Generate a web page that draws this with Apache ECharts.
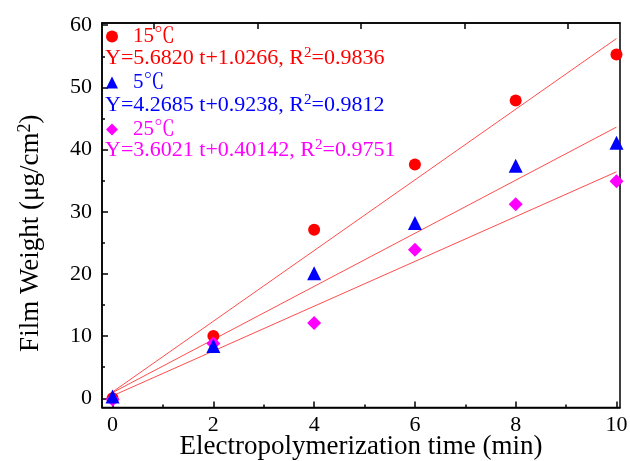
<!DOCTYPE html>
<html>
<head>
<meta charset="utf-8">
<script src="https://cdn.jsdelivr.net/npm/echarts@6/dist/echarts.min.js"></script>
<style>
  html, body { margin: 0; padding: 0; background: #fff; }
  #chart { width: 630px; height: 461px; }
</style>
</head>
<body>
<div id="chart"></div>
<script>
// electropolymerization time (min)
const timeMin = [0, 2, 4, 6, 8, 10];
// film weight (ug/cm2) at each temperature
const weight15 = [0, 10.0, 27.1, 37.6, 47.9, 55.3];
const weight5 = [0.3, 8.4, 20.1, 28.2, 37.4, 41.1];
const weight25 = [-0.2, 8.8, 12.1, 23.9, 31.2, 34.9];

// fitted lines, read at both ends
const fitTime = [0, 10];
const fit15 = [1.03, 57.85];
const fit5 = [0.92, 43.61];
const fit25 = [0.40, 36.42];

const xTicks = [0, 2, 4, 6, 8, 10];
const xMinor = [1, 3, 5, 7, 9];
const xTopTicks = [0, 2, 4, 6, 8];
const yTicks = [0, 10, 20, 30, 40, 50, 60];
const yMinor = [5, 15, 25, 35, 45, 55];

const names = ['15℃', '5℃', '25℃'];
const equations = [
  'Y=5.6820 t+1.0266, R{sup|2}=0.9836',
  'Y=4.2685 t+0.9238, R{sup|2}=0.9812',
  'Y=3.6021 t+0.40142, R{sup|2}=0.9751',
];

const serif = '"Liberation Serif", "Times New Roman", "Noto Serif CJK SC", "Noto Sans CJK SC", serif';
const red = '#ff0000', blue = '#0000ff', magenta = '#ff00ff', fitColor = '#ff4d4d';

const pairs = (xs, ys) => xs.map((x, i) => [x, ys[i]]);

const chart = echarts.init(document.getElementById('chart'));

const tickStyle = { color: '#000', width: 1.5 };

const baseX = {
  type: 'value', min: -0.21, max: 10.07, gridIndex: 0,
  splitLine: { show: false },
};
const baseY = {
  type: 'value', min: -1.48, max: 60.35, gridIndex: 0,
  splitLine: { show: false },
};

const legendBox = (name, top, icon, color) => ({
  data: [{ name: name, icon: icon, itemStyle: { color: color, opacity: 1 } }],
  left: 106, top: top, padding: 0,
  itemWidth: 12, itemHeight: 12,
  selectedMode: false,
  textStyle: { color: color, fontFamily: serif, fontSize: 21, padding: [0, 0, 0, 10] },
});

const eqText = (text, top, color) => ({
  type: 'text', left: 105, top: top,
  style: {
    text: text, fill: color, fontFamily: serif, fontSize: 22,
    rich: { sup: { fontFamily: serif, fontSize: 15, fill: color, padding: [0, 0, 9, 0] } },
  },
});

chart.setOption({
  backgroundColor: '#fff',
  animation: false,
  grid: {
    left: 102, top: 23, width: 518, height: 384.5,
    outerBoundsMode: 'none',
    show: true, borderColor: '#000', borderWidth: 1.5,
  },
  xAxis: [
    {
      ...baseX,
      position: 'bottom',
      name: 'Electropolymerization time (min)',
      nameLocation: 'middle', nameGap: 26, nameMoveOverlap: false,
      nameTextStyle: { fontFamily: serif, fontSize: 27, color: '#000' },
      axisLine: { show: true, onZero: false, lineStyle: tickStyle },
      axisTick: { show: true, inside: true, length: 6, customValues: xTicks, lineStyle: tickStyle },
      axisLabel: { customValues: xTicks, margin: 7, fontFamily: serif, fontSize: 22, color: '#000' },
    },
    {
      ...baseX,
      position: 'bottom',
      axisLine: { show: false, onZero: false },
      axisTick: { show: true, inside: true, length: 3, customValues: xMinor, lineStyle: tickStyle },
      axisLabel: { show: false },
    },
    {
      type: 'value', min: -1, max: 9, position: 'top', gridIndex: 0,
      splitLine: { show: false },
      axisLine: { show: true, onZero: false, lineStyle: tickStyle },
      axisTick: { show: true, inside: true, length: 6, customValues: xTopTicks, lineStyle: tickStyle },
      axisLabel: { show: false },
    },
  ],
  yAxis: [
    {
      ...baseY,
      position: 'left',
      name: 'Film Weight (μg/cm{sup|2})',
      nameLocation: 'middle', nameGap: 57, nameRotate: 90, nameMoveOverlap: false,
      nameTextStyle: {
        fontFamily: serif, fontSize: 27, color: '#000', padding: [0, 36, 0, 0],
        rich: { sup: { fontFamily: serif, fontSize: 18, color: '#000', padding: [0, 0, 11, 0] } },
      },
      axisLine: { show: true, onZero: false, lineStyle: tickStyle },
      axisTick: { show: true, inside: true, length: 6, customValues: yTicks, lineStyle: tickStyle },
      axisLabel: { customValues: yTicks, margin: 10, fontFamily: serif, fontSize: 22, color: '#000' },
    },
    {
      ...baseY,
      position: 'left',
      axisLine: { show: false, onZero: false },
      axisTick: { show: true, inside: true, length: 3, customValues: yMinor, lineStyle: tickStyle },
      axisLabel: { show: false },
    },
  ],
  legend: [
    legendBox(names[0], 26, 'circle', red),
    legendBox(names[1], 72, 'triangle', blue),
    legendBox(names[2], 119, 'diamond', magenta),
  ],
  graphic: [
    eqText(equations[0], 46, red),
    eqText(equations[1], 93, blue),
    eqText(equations[2], 138, magenta),
  ],
  series: [
    { type: 'line', data: pairs(fitTime, fit15), showSymbol: false, silent: true, lineStyle: { color: fitColor, width: 1 }, z: 1 },
    { type: 'line', data: pairs(fitTime, fit5), showSymbol: false, silent: true, lineStyle: { color: fitColor, width: 1 }, z: 1 },
    { type: 'line', data: pairs(fitTime, fit25), showSymbol: false, silent: true, lineStyle: { color: fitColor, width: 1 }, z: 1 },
    { name: names[0], type: 'scatter', data: pairs(timeMin, weight15), symbol: 'circle', symbolSize: 12, itemStyle: { color: red, opacity: 1 }, z: 2 },
    { name: names[2], type: 'scatter', data: pairs(timeMin, weight25), symbol: 'diamond', symbolSize: 14, itemStyle: { color: magenta, opacity: 1 }, z: 3 },
    { name: names[1], type: 'scatter', data: pairs(timeMin, weight5), symbol: 'triangle', symbolSize: 14, itemStyle: { color: blue, opacity: 1 }, z: 4 },
  ],
});
</script>
</body>
</html>
